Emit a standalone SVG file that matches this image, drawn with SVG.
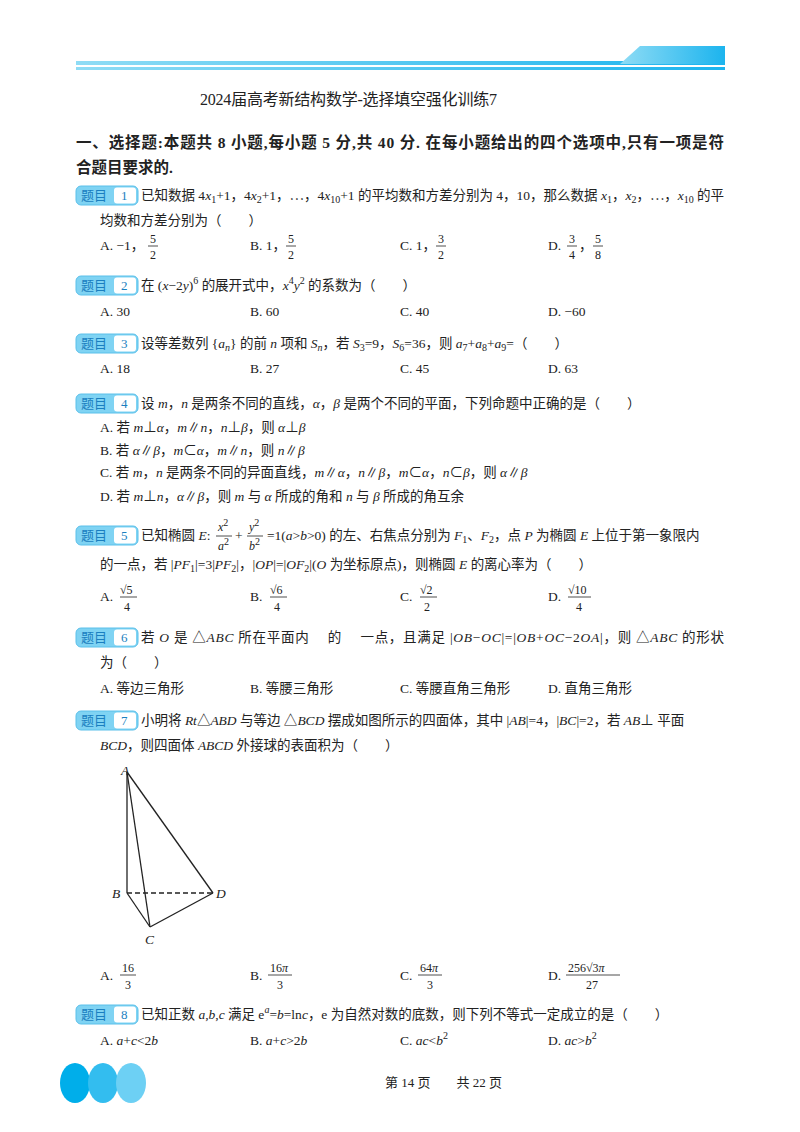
<svg xmlns="http://www.w3.org/2000/svg" width="800" height="1132" viewBox="0 0 800 1132">
<defs>
<linearGradient id="g1" x1="0" x2="1"><stop offset="0" stop-color="#8fdcf5"/><stop offset="1" stop-color="#1cb4ee"/></linearGradient>
</defs>
<style>
text{font-family:"Liberation Serif","Noto Sans CJK SC",serif;font-size:13.5px;fill:#222}
.i{font-style:italic}
.b{font-weight:bold;font-size:15.5px}
.s{font-size:10px}
.bt{font-size:13px;fill:#1a7fc0;font-family:"Noto Sans CJK SC",sans-serif}
.bn{font-size:13px;fill:#1a7fc0}
.fl{stroke:#222;stroke-width:0.8}
</style>
<rect width="800" height="1132" fill="#fff"/>
<g id="header">
<rect x="76" y="61" width="649" height="4" fill="url(#g1)"/>
<rect x="76" y="67" width="649" height="3" fill="url(#g1)"/>
<polygon points="620,64 640,46 725,46 725,64" fill="url(#g1)"/>
<text x="200" y="105" style="font-size:16px" textLength="297">2024届高考新结构数学-选择填空强化训练7</text>
<text x="76" y="148" class="b" textLength="648">一、选择题:本题共 8 小题,每小题 5 分,共 40 分. 在每小题给出的四个选项中,只有一项是符</text>
<text x="76" y="173" class="b">合题目要求的.</text>
</g>
<g id="badges">
<g transform="translate(76,186)"><rect width="62" height="19" rx="5" fill="#7fd3f3" stroke="#5bc0ea"/><rect x="38" y="1.5" width="22" height="16" rx="3" fill="#fff"/><text x="5" y="14" class="bt">题目</text><text x="45" y="14" class="bn">1</text></g>
<g transform="translate(76,276)"><rect width="62" height="19" rx="5" fill="#7fd3f3" stroke="#5bc0ea"/><rect x="38" y="1.5" width="22" height="16" rx="3" fill="#fff"/><text x="5" y="14" class="bt">题目</text><text x="45" y="14" class="bn">2</text></g>
<g transform="translate(76,334)"><rect width="62" height="19" rx="5" fill="#7fd3f3" stroke="#5bc0ea"/><rect x="38" y="1.5" width="22" height="16" rx="3" fill="#fff"/><text x="5" y="14" class="bt">题目</text><text x="45" y="14" class="bn">3</text></g>
<g transform="translate(76,394)"><rect width="62" height="19" rx="5" fill="#7fd3f3" stroke="#5bc0ea"/><rect x="38" y="1.5" width="22" height="16" rx="3" fill="#fff"/><text x="5" y="14" class="bt">题目</text><text x="45" y="14" class="bn">4</text></g>
<g transform="translate(76,526)"><rect width="62" height="19" rx="5" fill="#7fd3f3" stroke="#5bc0ea"/><rect x="38" y="1.5" width="22" height="16" rx="3" fill="#fff"/><text x="5" y="14" class="bt">题目</text><text x="45" y="14" class="bn">5</text></g>
<g transform="translate(76,628)"><rect width="62" height="19" rx="5" fill="#7fd3f3" stroke="#5bc0ea"/><rect x="38" y="1.5" width="22" height="16" rx="3" fill="#fff"/><text x="5" y="14" class="bt">题目</text><text x="45" y="14" class="bn">6</text></g>
<g transform="translate(76,711)"><rect width="62" height="19" rx="5" fill="#7fd3f3" stroke="#5bc0ea"/><rect x="38" y="1.5" width="22" height="16" rx="3" fill="#fff"/><text x="5" y="14" class="bt">题目</text><text x="45" y="14" class="bn">7</text></g>
<g transform="translate(76,1005)"><rect width="62" height="19" rx="5" fill="#7fd3f3" stroke="#5bc0ea"/><rect x="38" y="1.5" width="22" height="16" rx="3" fill="#fff"/><text x="5" y="14" class="bt">题目</text><text x="45" y="14" class="bn">8</text></g>
</g>
<g id="q1">
<text x="141" y="200">已知数据 4<tspan class="i">x</tspan><tspan class="s" dy="3">1</tspan><tspan dy="-3">+1，4</tspan><tspan class="i">x</tspan><tspan class="s" dy="3">2</tspan><tspan dy="-3">+1，⋯，4</tspan><tspan class="i">x</tspan><tspan class="s" dy="3">10</tspan><tspan dy="-3">+1 的平均数和方差分别为 4，10，那么数据 </tspan><tspan class="i">x</tspan><tspan class="s" dy="3">1</tspan><tspan dy="-3">，</tspan><tspan class="i">x</tspan><tspan class="s" dy="3">2</tspan><tspan dy="-3">，⋯，</tspan><tspan class="i">x</tspan><tspan class="s" dy="3">10</tspan><tspan dy="-3"> 的平</tspan></text>
<text x="100" y="225">均数和方差分别为（　　）</text>
<text x="100" y="250">A. −1，</text><text x="150" y="243" style="font-size:12px">5</text><line x1="148" y1="246" x2="158" y2="246" class="fl"/><text x="150" y="259" style="font-size:12px">2</text>
<text x="250" y="250">B. 1，</text><text x="288" y="243" style="font-size:12px">5</text><line x1="286" y1="246" x2="296" y2="246" class="fl"/><text x="288" y="259" style="font-size:12px">2</text>
<text x="400" y="250">C. 1，</text><text x="438" y="243" style="font-size:12px">3</text><line x1="436" y1="246" x2="446" y2="246" class="fl"/><text x="438" y="259" style="font-size:12px">2</text>
<text x="548" y="250">D.</text><text x="569" y="243" style="font-size:12px">3</text><line x1="567" y1="246" x2="577" y2="246" class="fl"/><text x="569" y="259" style="font-size:12px">4</text><text x="579" y="250">，</text><text x="595" y="243" style="font-size:12px">5</text><line x1="593" y1="246" x2="603" y2="246" class="fl"/><text x="595" y="259" style="font-size:12px">8</text>
</g>
<g id="q2">
<text x="141" y="290">在 (<tspan class="i">x</tspan>−2<tspan class="i">y</tspan>)<tspan class="s" dy="-6">6</tspan><tspan dy="6"> 的展开式中，</tspan><tspan class="i">x</tspan><tspan class="s" dy="-6">4</tspan><tspan class="i" dy="6">y</tspan><tspan class="s" dy="-6">2</tspan><tspan dy="6"> 的系数为（　　）</tspan></text>
<text x="100" y="316">A. 30</text><text x="250" y="316">B. 60</text><text x="400" y="316">C. 40</text><text x="548" y="316">D. −60</text>
</g>
<g id="q3">
<text x="141" y="348">设等差数列 {<tspan class="i">a</tspan><tspan class="s i" dy="3">n</tspan><tspan dy="-3">} 的前 </tspan><tspan class="i">n</tspan> 项和 <tspan class="i">S</tspan><tspan class="s i" dy="3">n</tspan><tspan dy="-3">，若 </tspan><tspan class="i">S</tspan><tspan class="s" dy="3">3</tspan><tspan dy="-3">=9，</tspan><tspan class="i">S</tspan><tspan class="s" dy="3">6</tspan><tspan dy="-3">=36，则 </tspan><tspan class="i">a</tspan><tspan class="s" dy="3">7</tspan><tspan dy="-3">+</tspan><tspan class="i">a</tspan><tspan class="s" dy="3">8</tspan><tspan dy="-3">+</tspan><tspan class="i">a</tspan><tspan class="s" dy="3">9</tspan><tspan dy="-3">=（　　）</tspan></text>
<text x="100" y="373">A. 18</text><text x="250" y="373">B. 27</text><text x="400" y="373">C. 45</text><text x="548" y="373">D. 63</text>
</g>
<g id="q4">
<text x="141" y="408">设 <tspan class="i">m</tspan>，<tspan class="i">n</tspan> 是两条不同的直线，<tspan class="i">α</tspan>，<tspan class="i">β</tspan> 是两个不同的平面，下列命题中正确的是（　　）</text>
<text x="100" y="432">A. 若 <tspan class="i">m</tspan>⊥<tspan class="i">α</tspan>，<tspan class="i">m</tspan>∥<tspan class="i">n</tspan>，<tspan class="i">n</tspan>⊥<tspan class="i">β</tspan>，则 <tspan class="i">α</tspan>⊥<tspan class="i">β</tspan></text>
<text x="100" y="455">B. 若 <tspan class="i">α</tspan>∥<tspan class="i">β</tspan>，<tspan class="i">m</tspan>⊂<tspan class="i">α</tspan>，<tspan class="i">m</tspan>∥<tspan class="i">n</tspan>，则 <tspan class="i">n</tspan>∥<tspan class="i">β</tspan></text>
<text x="100" y="477">C. 若 <tspan class="i">m</tspan>，<tspan class="i">n</tspan> 是两条不同的异面直线，<tspan class="i">m</tspan>∥<tspan class="i">α</tspan>，<tspan class="i">n</tspan>∥<tspan class="i">β</tspan>，<tspan class="i">m</tspan>⊂<tspan class="i">α</tspan>，<tspan class="i">n</tspan>⊂<tspan class="i">β</tspan>，则 <tspan class="i">α</tspan>∥<tspan class="i">β</tspan></text>
<text x="100" y="501">D. 若 <tspan class="i">m</tspan>⊥<tspan class="i">n</tspan>，<tspan class="i">α</tspan>∥<tspan class="i">β</tspan>，则 <tspan class="i">m</tspan> 与 <tspan class="i">α</tspan> 所成的角和 <tspan class="i">n</tspan> 与 <tspan class="i">β</tspan> 所成的角互余</text>
</g>
<g id="q5">
<text x="141" y="540">已知椭圆 <tspan class="i">E</tspan>:</text>
<text x="218" y="531" class="i" style="font-size:12px">x<tspan class="s" dy="-5" style="font-style:normal">2</tspan></text><line x1="216" y1="536" x2="232" y2="536" class="fl"/><text x="218" y="550" class="i" style="font-size:12px">a<tspan class="s" dy="-5" style="font-style:normal">2</tspan></text>
<text x="235" y="540">+</text>
<text x="249" y="531" class="i" style="font-size:12px">y<tspan class="s" dy="-5" style="font-style:normal">2</tspan></text><line x1="247" y1="536" x2="263" y2="536" class="fl"/><text x="249" y="550" class="i" style="font-size:12px">b<tspan class="s" dy="-5" style="font-style:normal">2</tspan></text>
<text x="267" y="540">=1(<tspan class="i">a</tspan>&gt;<tspan class="i">b</tspan>&gt;0) 的左、右焦点分别为 <tspan class="i">F</tspan><tspan class="s" dy="3">1</tspan><tspan dy="-3">、</tspan><tspan class="i">F</tspan><tspan class="s" dy="3">2</tspan><tspan dy="-3">，点 </tspan><tspan class="i">P</tspan> 为椭圆 <tspan class="i">E</tspan> 上位于第一象限内</text>
<text x="100" y="569">的一点，若 |<tspan class="i">PF</tspan><tspan class="s" dy="3">1</tspan><tspan dy="-3">|=3|</tspan><tspan class="i">PF</tspan><tspan class="s" dy="3">2</tspan><tspan dy="-3">|，|</tspan><tspan class="i">OP</tspan>|=|<tspan class="i">OF</tspan><tspan class="s" dy="3">2</tspan><tspan dy="-3">|(</tspan><tspan class="i">O</tspan> 为坐标原点)，则椭圆 <tspan class="i">E</tspan> 的离心率为（　　）</text>
<text x="100" y="601">A.</text><text x="120" y="594" style="font-size:12px">√5</text><line x1="120" y1="597" x2="137" y2="597" class="fl"/><text x="124" y="611" style="font-size:12px">4</text>
<text x="250" y="601">B.</text><text x="270" y="594" style="font-size:12px">√6</text><line x1="270" y1="597" x2="287" y2="597" class="fl"/><text x="274" y="611" style="font-size:12px">4</text>
<text x="400" y="601">C.</text><text x="420" y="594" style="font-size:12px">√2</text><line x1="420" y1="597" x2="437" y2="597" class="fl"/><text x="424" y="611" style="font-size:12px">2</text>
<text x="548" y="601">D.</text><text x="568" y="594" style="font-size:12px">√10</text><line x1="568" y1="597" x2="591" y2="597" class="fl"/><text x="576" y="611" style="font-size:12px">4</text>
</g>
<g id="q6">
<text x="141" y="642" textLength="583">若 <tspan class="i">O</tspan> 是 △<tspan class="i">ABC</tspan> 所在平面内　 的　 一点，且满足 |<tspan class="i">OB</tspan>−<tspan class="i">OC</tspan>|=|<tspan class="i">OB</tspan>+<tspan class="i">OC</tspan>−2<tspan class="i">OA</tspan>|，则 △<tspan class="i">ABC</tspan> 的形状</text>
<text x="100" y="667">为（　　）</text>
<text x="100" y="693">A. 等边三角形</text><text x="250" y="693">B. 等腰三角形</text><text x="400" y="693">C. 等腰直角三角形</text><text x="548" y="693">D. 直角三角形</text>
</g>
<g id="q7">
<text x="141" y="725">小明将 <tspan class="i">Rt</tspan>△<tspan class="i">ABD</tspan> 与等边 △<tspan class="i">BCD</tspan> 摆成如图所示的四面体，其中 |<tspan class="i">AB</tspan>|=4，|<tspan class="i">BC</tspan>|=2，若 <tspan class="i">AB</tspan>⊥ 平面</text>
<text x="100" y="750"><tspan class="i">BCD</tspan>，则四面体 <tspan class="i">ABCD</tspan> 外接球的表面积为（　　）</text>
</g>
<g id="connectors" stroke="#222" stroke-width="1.3" fill="none">
<line x1="127" y1="772" x2="127" y2="893"/>
<line x1="127" y1="772" x2="150" y2="927"/>
<line x1="127" y1="772" x2="213" y2="893"/>
<line x1="127" y1="893" x2="150" y2="927"/>
<line x1="150" y1="927" x2="213" y2="893"/>
<line x1="127" y1="893" x2="213" y2="893" stroke-dasharray="5,3"/>
</g>
<g id="labels7">
<text x="121" y="775" class="i">A</text>
<text x="112" y="898" class="i">B</text>
<text x="145" y="944" class="i">C</text>
<text x="216" y="898" class="i">D</text>
<text x="100" y="980">A.</text><text x="122" y="972" style="font-size:12px">16</text><line x1="120" y1="975" x2="136" y2="975" class="fl"/><text x="125" y="989" style="font-size:12px">3</text>
<text x="250" y="980">B.</text><text x="270" y="972" style="font-size:12px">16<tspan class="i">π</tspan></text><line x1="268" y1="975" x2="292" y2="975" class="fl"/><text x="277" y="989" style="font-size:12px">3</text>
<text x="400" y="980">C.</text><text x="420" y="972" style="font-size:12px">64<tspan class="i">π</tspan></text><line x1="418" y1="975" x2="442" y2="975" class="fl"/><text x="427" y="989" style="font-size:12px">3</text>
<text x="548" y="980">D.</text><text x="568" y="972" style="font-size:12px">256√3<tspan class="i">π</tspan></text><line x1="566" y1="975" x2="620" y2="975" class="fl"/><text x="586" y="989" style="font-size:12px">27</text>
</g>
<g id="q8">
<text x="141" y="1019">已知正数 <tspan class="i">a</tspan>,<tspan class="i">b</tspan>,<tspan class="i">c</tspan> 满足 e<tspan class="s i" dy="-6">a</tspan><tspan dy="6">=</tspan><tspan class="i">b</tspan>=ln<tspan class="i">c</tspan>，e 为自然对数的底数，则下列不等式一定成立的是（　　）</text>
<text x="100" y="1045">A. <tspan class="i">a</tspan>+<tspan class="i">c</tspan>&lt;2<tspan class="i">b</tspan></text>
<text x="250" y="1045">B. <tspan class="i">a</tspan>+<tspan class="i">c</tspan>&gt;2<tspan class="i">b</tspan></text>
<text x="400" y="1045">C. <tspan class="i">ac</tspan>&lt;<tspan class="i">b</tspan><tspan class="s" dy="-6">2</tspan></text>
<text x="548" y="1045">D. <tspan class="i">ac</tspan>&gt;<tspan class="i">b</tspan><tspan class="s" dy="-6">2</tspan></text>
</g>
<g id="footer">
<ellipse cx="75" cy="1083" rx="15" ry="20" fill="#00aeea"/>
<ellipse cx="103" cy="1083" rx="15" ry="20" fill="#33bdef"/>
<ellipse cx="131" cy="1083" rx="15" ry="20" fill="#6dd0f4"/>
<text x="385" y="1087" style="font-size:13px">第 14 页　　共 22 页</text>
</g>
</svg>
